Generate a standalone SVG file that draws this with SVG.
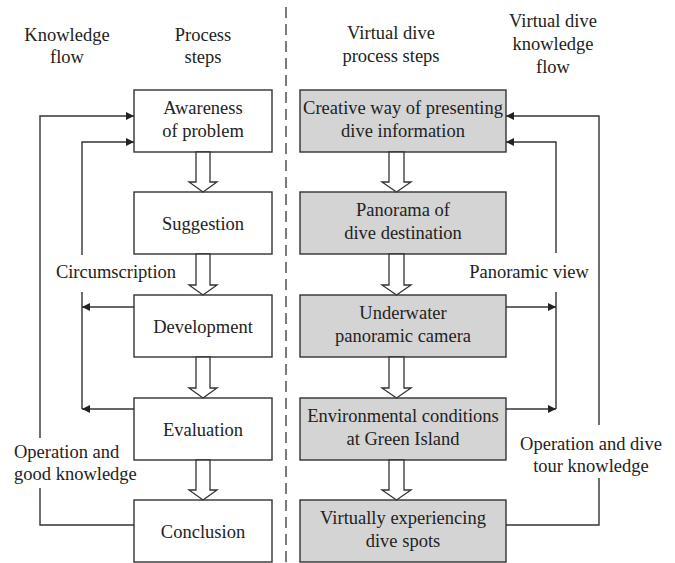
<svg xmlns="http://www.w3.org/2000/svg" width="675" height="563" viewBox="0 0 675 563">
<defs>
<style>
text{font-family:'Liberation Serif',Tinos,'Times New Roman',Times,serif;font-size:18.5px;fill:#222;text-anchor:middle}
.box{fill:#fff;stroke:#333;stroke-width:1.4}
.gbox{fill:#d4d4d4;stroke:#333;stroke-width:1.4}
.blk{fill:#fff;stroke:#333;stroke-width:1.3}
.ln{fill:none;stroke:#333;stroke-width:1.4}
.dash{fill:none;stroke:#444;stroke-width:1.4;stroke-dasharray:11 6}
</style>
<marker id="ah" viewBox="0 0 10 10" refX="10" refY="5" markerWidth="10" markerHeight="8" markerUnits="userSpaceOnUse" orient="auto">
<path d="M0,0 L10,5 L0,10 z" fill="#222"/>
</marker>
</defs>
<rect width="675" height="563" fill="#fff"/>
<g id="headers">
<text x="67" y="41">Knowledge</text><text x="67" y="63">flow</text>
<text x="203" y="41">Process</text><text x="203" y="63">steps</text>
<text x="391" y="39">Virtual dive</text><text x="391" y="62">process steps</text>
<text x="553" y="27">Virtual dive</text><text x="553" y="50">knowledge</text><text x="553" y="73">flow</text>
</g>
<line class="dash" x1="286" y1="7" x2="286" y2="563"/>
<g id="n1"><rect class="box" x="134" y="90" width="138" height="62"/><text x="203" y="114">Awareness</text><text x="203" y="137">of problem</text></g>
<g id="n2"><rect class="box" x="134" y="192" width="138" height="62"/><text x="203" y="230">Suggestion</text></g>
<g id="n3"><rect class="box" x="134" y="295" width="138" height="62"/><text x="203" y="333">Development</text></g>
<g id="n4"><rect class="box" x="134" y="398" width="138" height="62"/><text x="203" y="436">Evaluation</text></g>
<g id="n5"><rect class="box" x="134" y="500" width="138" height="62"/><text x="203" y="538">Conclusion</text></g>
<g id="r1"><rect class="gbox" x="300" y="90" width="206" height="62"/><text x="403" y="114">Creative way of presenting</text><text x="403" y="137">dive information</text></g>
<g id="r2"><rect class="gbox" x="300" y="192" width="206" height="62"/><text x="403" y="216">Panorama of</text><text x="403" y="239">dive destination</text></g>
<g id="r3"><rect class="gbox" x="300" y="295" width="206" height="62"/><text x="403" y="319">Underwater</text><text x="403" y="342">panoramic camera</text></g>
<g id="r4"><rect class="gbox" x="300" y="398" width="206" height="62"/><text x="403" y="422">Environmental conditions</text><text x="403" y="445">at Green Island</text></g>
<g id="r5"><rect class="gbox" x="300" y="500" width="206" height="62"/><text x="403" y="524">Virtually experiencing</text><text x="403" y="547">dive spots</text></g>
<g id="connectors">
<path class="blk" d="M196,152 V182 H189 L203,192 L217,182 H210 V152 Z"/>
<path class="blk" d="M196,254 V285 H189 L203,295 L217,285 H210 V254 Z"/>
<path class="blk" d="M196,357 V388 H189 L203,398 L217,388 H210 V357 Z"/>
<path class="blk" d="M196,460 V490 H189 L203,500 L217,490 H210 V460 Z"/>
<path class="blk" d="M389,152 V182 H382 L396.5,192 L411,182 H404 V152 Z"/>
<path class="blk" d="M389,254 V285 H382 L396.5,295 L411,285 H404 V254 Z"/>
<path class="blk" d="M389,357 V388 H382 L396.5,398 L411,388 H404 V357 Z"/>
<path class="blk" d="M389,460 V490 H382 L396.5,500 L411,490 H404 V460 Z"/>
<path class="ln" d="M40,438 V116 H134" marker-end="url(#ah)"/>
<path class="ln" d="M134,525 H40 V488"/>
<path class="ln" d="M82,255 V142 H134" marker-end="url(#ah)"/>
<path class="ln" d="M82,292 V409"/>
<path class="ln" d="M134,307 H82" marker-end="url(#ah)"/>
<path class="ln" d="M134,409 H82" marker-end="url(#ah)"/>
<path class="ln" d="M599,425 V116 H506" marker-end="url(#ah)"/>
<path class="ln" d="M506,525 H599 V478"/>
<path class="ln" d="M556,253 V142 H506" marker-end="url(#ah)"/>
<path class="ln" d="M556,292 V409"/>
<path class="ln" d="M506,307 H556" marker-end="url(#ah)"/>
<path class="ln" d="M506,409 H556" marker-end="url(#ah)"/>
</g>
<g id="labels">
<text x="116" y="278">Circumscription</text>
<text x="529" y="278">Panoramic view</text>
<text x="14" y="458" style="text-anchor:start">Operation and</text><text x="14" y="480" style="text-anchor:start">good knowledge</text>
<text x="591" y="450">Operation and dive</text><text x="591" y="472">tour knowledge</text>
</g>
</svg>
